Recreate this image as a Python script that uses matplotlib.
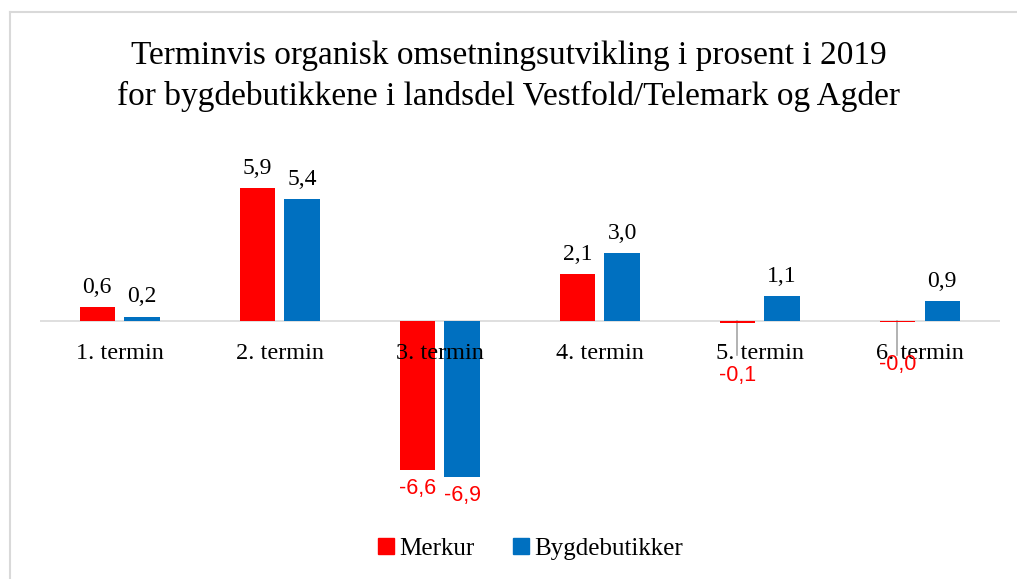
import numpy as np
import matplotlib.pyplot as plt
from matplotlib.lines import Line2D

# ============================
# Data
# ============================
terminer = ["1. termin", "2. termin", "3. termin", "4. termin", "5. termin", "6. termin"]
merkur = [0.6, 5.9, -6.6, 2.1, -0.1, -0.02]
bygde = [0.2, 5.4, -6.9, 3.0, 1.1, 0.9]
merkur_txt = ["0,6", "5,9", "-6,6", "2,1", "-0,1", "-0,0"]
bygde_txt = ["0,2", "5,4", "-6,9", "3,0", "1,1", "0,9"]

RED = "#FF0000"
BLUE = "#0070C0"
SERIF = "Liberation Serif"
SANS = "Liberation Sans"

fig = plt.figure(figsize=(10.17, 5.79), dpi=100)
ax = fig.add_axes([0.039, 0.133, 0.944, 0.625])

x = np.arange(len(terminer))
w = 0.22
off = 0.14
ax.bar(x - off, merkur, w, color=RED, label="Merkur", zorder=2)
ax.bar(x + off, bygde, w, color=BLUE, label="Bygdebutikker", zorder=2)

ax.set_xlim(-0.5, len(terminer) - 0.5)
ax.set_ylim(-8, 8)
ax.axhline(0, color="#D9D9D9", lw=1.2, zorder=1)
for s in ax.spines.values():
    s.set_visible(False)
ax.set_yticks([])
ax.set_xticks([])

# kategorinavn under nullinjen
for i, t in enumerate(terminer):
    ax.text(x[i], -1.45, t, ha="center", va="center", fontsize=17.5, family=SERIF, zorder=3)

# verdier
for i in range(len(terminer)):
    for xs, v, txt, col in ((x[i] - off, merkur[i], merkur_txt[i], RED),
                            (x[i] + off, bygde[i], bygde_txt[i], BLUE)):
        if v >= 0:
            ax.text(xs, v + 0.4, txt, ha="center", va="bottom", fontsize=17, family=SERIF)
        else:
            yy = v - 0.35
            if abs(v) < 0.5:
                yy = -1.95 if txt == "-0,1" else -1.45
                ax.plot([xs, xs], [0, -1.5], color="#A6A6A6", lw=1.2, zorder=1)
            ax.text(xs, yy, txt, ha="center", va="top", fontsize=15.5, family=SANS, color=RED, zorder=4)

fig.suptitle("Terminvis organisk omsetningsutvikling i prosent i 2019\n"
             "for bygdebutikkene i landsdel Vestfold/Telemark og Agder",
             y=0.93, fontsize=24, family=SERIF, linespacing=1.4)

handles = [Line2D([], [], marker="s", ls="", color=RED, markersize=12),
           Line2D([], [], marker="s", ls="", color=BLUE, markersize=12)]
fig.legend(handles, ["Merkur", "Bygdebutikker"], loc="center", bbox_to_anchor=(0.52, 0.052),
           ncol=2, frameon=False, prop={"family": SERIF, "size": 18},
           handletextpad=0.1, columnspacing=1.4, handlelength=0.9)

# ramme rundt diagrammet
fig.add_artist(Line2D([10 / 1017, 10 / 1017], [0, 1 - 12 / 579], color="#D9D9D9", lw=1.5))
fig.add_artist(Line2D([10 / 1017, 1], [1 - 12 / 579, 1 - 12 / 579], color="#D9D9D9", lw=1.5))

fig.savefig("out.png", dpi=100)
